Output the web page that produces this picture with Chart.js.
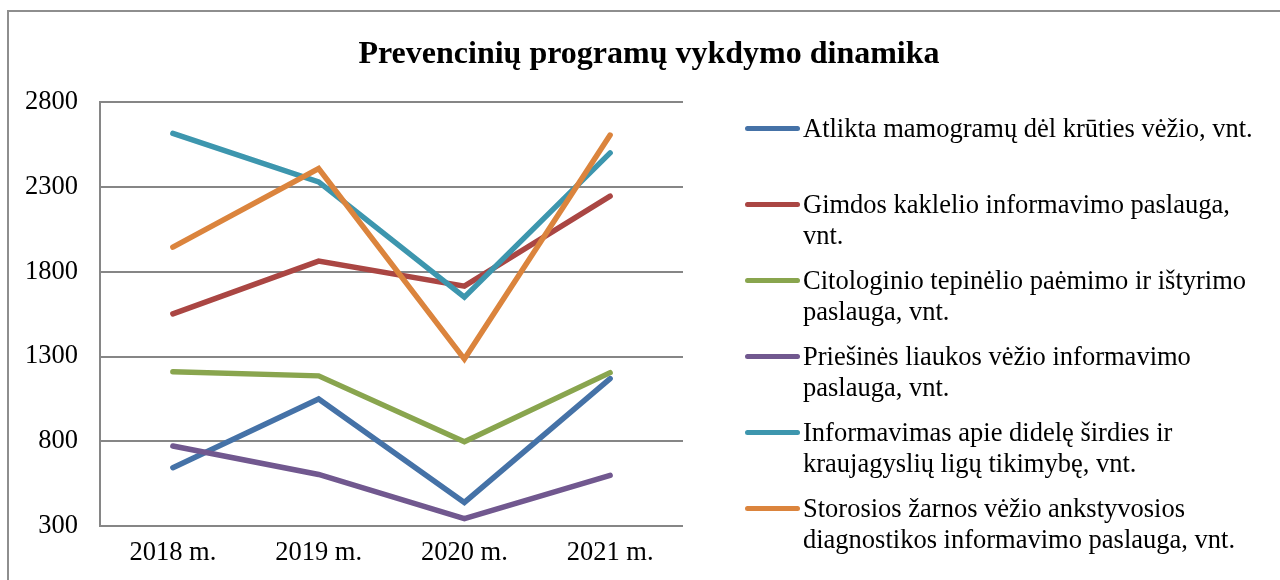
<!DOCTYPE html>
<html><head><meta charset="utf-8">
<script src="https://cdn.jsdelivr.net/npm/chart.js@4/dist/chart.umd.min.js"></script>
<style>
html,body{margin:0;padding:0;background:#fff;overflow:hidden}
#wrap{position:relative;width:1280px;height:580px;overflow:hidden}
#frame{position:absolute;left:7px;top:10px;width:1400px;height:700px;border:2px solid #8e8e8e;box-sizing:border-box}
#c{position:absolute;left:0;top:0}
#title{position:absolute;left:0;top:32px;width:1298px;text-align:center;font-family:"Liberation Serif","Times New Roman",serif;font-weight:bold;font-size:32px;line-height:40px;color:#000}
#legend{position:absolute;left:0;top:0;font-family:"Liberation Serif","Times New Roman",serif;font-size:26.5px;color:#000}
.item{position:absolute;left:745px}
.sw{position:absolute;left:0;top:13px;width:55px;height:5px;border-radius:3px}
.tx{position:absolute;left:58px;top:0;white-space:pre;line-height:31px}
</style></head>
<body>
<div id="wrap">
<div id="frame"></div>
<canvas id="c" width="1280" height="580"></canvas>
<div id="title"></div>
<div id="legend"></div>
</div>
<script>
const chartTitle = 'Prevencinių programų vykdymo dinamika';
const categories = ['2018 m.', '2019 m.', '2020 m.', '2021 m.'];
const seriesNames = [
  'Atlikta mamogramų dėl krūties vėžio, vnt.',
  'Gimdos kaklelio informavimo paslauga,\nvnt.',
  'Citologinio tepinėlio paėmimo ir ištyrimo\npaslauga, vnt.',
  'Priešinės liaukos vėžio informavimo\npaslauga, vnt.',
  'Informavimas apie didelę širdies ir\nkraujagyslių ligų tikimybę, vnt.',
  'Storosios žarnos vėžio ankstyvosios\ndiagnostikos informavimo paslauga, vnt.'
];
const mamografija = [645, 1050, 440, 1170];
const gimdosKaklelio = [1551, 1862, 1715, 2245];
const citologinio = [1210, 1186, 798, 1205];
const priesinesLiaukos = [773, 605, 345, 600];
const sirdiesKraujagysliu = [2615, 2329, 1650, 2500];
const storosiosZarnos = [1945, 2408, 1285, 2605];
const seriesColors = ['#4572A7', '#AA4643', '#89A54E', '#71588F', '#3D96AE', '#DB843D'];
const yMin = 300, yMax = 2800, yStep = 500;

const seriesValues = [mamografija, gimdosKaklelio, citologinio, priesinesLiaukos, sirdiesKraujagysliu, storosiosZarnos];

document.getElementById('title').textContent = chartTitle;

const serif = '"Liberation Serif", "Times New Roman", serif';
const datasets = seriesValues.map((vals, i) => ({
  label: seriesNames[i].replace('\n', ' '),
  data: vals,
  borderColor: seriesColors[i],
  backgroundColor: seriesColors[i],
  borderWidth: 5.5,
  borderCapStyle: 'round',
  borderJoinStyle: 'miter',
  tension: 0,
  pointRadius: 0,
  pointHoverRadius: 0,
  fill: false,
  order: seriesValues.length - i
}));

new Chart(document.getElementById('c'), {
  type: 'line',
  data: { labels: categories, datasets },
  options: {
    responsive: false,
    animation: false,
    events: [],
    layout: { padding: { top: 102, right: 597, bottom: 0, left: 0 } },
    plugins: { legend: { display: false }, title: { display: false }, tooltip: { enabled: false } },
    scales: {
      x: {
        offset: true,
        grid: { display: false, drawTicks: false },
        border: { display: false },
        ticks: { color: '#000', font: { family: serif, size: 26.5 }, padding: 11, maxRotation: 0 }
      },
      y: {
        min: yMin, max: yMax,
        grid: { color: '#868686', lineWidth: 2, drawTicks: false },
        border: { display: true, color: '#868686', width: 2 },
        ticks: { stepSize: yStep, color: '#000', font: { family: serif, size: 26.5 }, padding: 22,
                 callback: (v) => String(v) },
        afterFit: (s) => { s.width = 100; }
      }
    }
  }
});

const legend = document.getElementById('legend');
seriesNames.forEach((name, i) => {
  const item = document.createElement('div');
  item.className = 'item';
  item.style.top = (128 - 15.5 + i * 76) + 'px';
  const sw = document.createElement('div');
  sw.className = 'sw';
  sw.style.background = seriesColors[i];
  const tx = document.createElement('div');
  tx.className = 'tx';
  tx.textContent = name;
  item.appendChild(sw);
  item.appendChild(tx);
  legend.appendChild(item);
});
</script>
</body></html>
